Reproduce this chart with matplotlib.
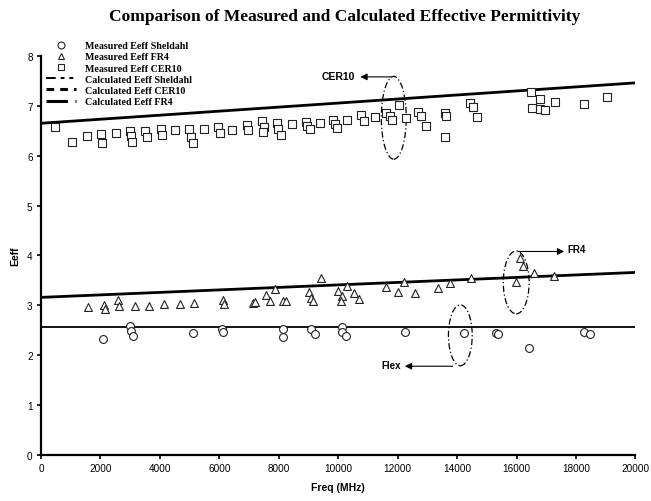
import matplotlib.pyplot as plt
from matplotlib.lines import Line2D
from matplotlib.patches import Ellipse

# measured data (freq in MHz, effective permittivity)
sheldahl_f = [2080, 3010, 3040, 3110, 5120, 6090, 6120, 8130, 8130, 9100, 9230,
              10130, 10130, 10270, 12240, 14250, 15320, 15380, 16420, 18260, 18460]
sheldahl_e = [2.32, 2.58, 2.48, 2.38, 2.44, 2.52, 2.46, 2.52, 2.36, 2.52, 2.42,
              2.56, 2.46, 2.38, 2.46, 2.44, 2.44, 2.42, 2.14, 2.46, 2.42]

fr4_f = [1580, 2110, 2140, 2580, 2610, 3150, 3650, 4150, 4680, 5150, 6120, 6150,
         7120, 7200, 7560, 7720, 7860, 8130, 8230, 9030, 9100, 9160, 9430, 10000,
         10130, 10100, 10300, 10530, 10700, 11600, 12000, 12200, 12570, 13350,
         13750, 14480, 15990, 16120, 16220, 16590, 17260]
fr4_e = [2.97, 3.00, 2.92, 3.11, 2.98, 2.98, 2.99, 3.02, 3.02, 3.04, 3.10, 3.02,
         3.05, 3.07, 3.20, 3.08, 3.32, 3.09, 3.09, 3.26, 3.14, 3.08, 3.54, 3.28,
         3.18, 3.08, 3.38, 3.24, 3.12, 3.36, 3.26, 3.46, 3.24, 3.34,
         3.44, 3.54, 3.46, 3.94, 3.78, 3.64, 3.58]

cer10_f = [470, 1040, 1540, 2010, 2040, 2540, 3010, 3040, 3070, 3510, 3550, 4050,
           4080, 4520, 4980, 5050, 5120, 5480, 5950, 6020, 6420, 6920, 6950, 7420,
           7490, 7460, 7930, 7960, 8090, 8430, 8900, 8960, 9060, 9400, 9830, 9900,
           9970, 10300, 10770, 10870, 11240, 11600, 11740, 11800, 12040, 12270,
           12680, 12780, 12940, 13610, 13640, 13610, 14450, 14520, 14680, 16490,
           16790, 16520, 16790, 16960, 17290, 18260, 19030]
cer10_e = [6.58, 6.28, 6.40, 6.44, 6.26, 6.46, 6.50, 6.40, 6.28, 6.50, 6.38, 6.54,
           6.42, 6.52, 6.54, 6.38, 6.26, 6.54, 6.58, 6.46, 6.52, 6.62, 6.52, 6.70,
           6.58, 6.48, 6.66, 6.54, 6.42, 6.64, 6.68, 6.60, 6.54, 6.66, 6.72, 6.64,
           6.56, 6.72, 6.82, 6.70, 6.78, 6.86, 6.80, 6.72, 7.02, 6.76,
           6.88, 6.80, 6.60, 6.86, 6.80, 6.38, 7.06, 6.98, 6.78, 7.28,
           7.14, 6.96, 6.94, 6.92, 7.08, 7.04, 7.18]

# calculated lines (end points)
calc_f = [0, 20000]
calc_sheldahl = [2.56, 2.56]
calc_cer10 = [6.65, 7.46]
calc_fr4 = [3.16, 3.66]

fig = plt.figure(figsize=(6.51, 5.02), dpi=100)
ax = fig.add_axes([0.063, 0.0916, 0.913, 0.795])

mk = dict(facecolor='white', edgecolor='#222222', linewidths=0.8, s=32, zorder=3)
ax.scatter(sheldahl_f, sheldahl_e, marker='o', **mk)
ax.scatter(fr4_f, fr4_e, marker='^', **mk)
ax.scatter(cer10_f, cer10_e, marker='s', **mk)

ax.plot(calc_f, calc_sheldahl, color='black', lw=1.3, zorder=2)
ax.plot(calc_f, calc_cer10, color='black', lw=2.0, zorder=2)
ax.plot(calc_f, calc_fr4, color='black', lw=2.0, zorder=2)

# annotations
ell_kw = dict(fill=False, edgecolor='black', lw=0.9, linestyle=(0, (5, 2, 1, 2)))
ax.add_patch(Ellipse((11870, 6.76), 840, 1.66, **ell_kw))
ax.add_patch(Ellipse((15990, 3.46), 870, 1.26, **ell_kw))
ax.add_patch(Ellipse((14110, 2.40), 800, 1.22, **ell_kw))

arr = dict(arrowstyle='-|>', color='black', lw=0.8, mutation_scale=10)
ax.annotate('', xy=(10650, 7.58), xytext=(11870, 7.58), arrowprops=arr)
ax.text(10550, 7.60, 'CER10', ha='right', va='center', fontsize=7.5,
        fontweight='bold', family='Liberation Sans')
ax.annotate('', xy=(17700, 4.08), xytext=(15950, 4.08), arrowprops=arr)
ax.text(17720, 4.12, 'FR4', ha='left', va='center', fontsize=7,
        fontweight='bold', family='Liberation Sans')
ax.annotate('', xy=(12150, 1.78), xytext=(13950, 1.78), arrowprops=arr)
ax.text(12100, 1.80, 'Flex', ha='right', va='center', fontsize=7,
        fontweight='bold', family='Liberation Sans')

ax.set_xlim(0, 20000)
ax.set_ylim(0, 8)
ax.set_xticks(range(0, 20001, 2000))
ax.set_yticks(range(0, 9))
for s in ['top', 'right']:
    ax.spines[s].set_visible(False)
for s in ['left', 'bottom']:
    ax.spines[s].set_linewidth(1.6)
ax.tick_params(direction='out', length=3, width=1.2, labelsize=7.2, pad=3)
for lab in ax.get_xticklabels() + ax.get_yticklabels():
    lab.set_family('Liberation Sans')

ax.set_xlabel('Freq (MHz)', fontsize=7.5, fontweight='bold', family='Liberation Sans', labelpad=6)
ax.set_ylabel('Eeff', fontsize=7.5, fontweight='bold', family='Liberation Sans', labelpad=5)

fig.text(0.53, 0.966, 'Comparison of Measured and Calculated Effective Permittivity',
         ha='center', va='center', fontsize=12.5, fontweight='bold', family='Liberation Serif')

handles = [
    Line2D([], [], marker='o', ls='none', mfc='white', mec='#222222', ms=5, mew=0.8),
    Line2D([], [], marker='^', ls='none', mfc='white', mec='#222222', ms=5, mew=0.8),
    Line2D([], [], marker='s', ls='none', mfc='white', mec='#222222', ms=5, mew=0.8),
    Line2D([], [], color='black', lw=1.4, ls=(0, (5, 2.5, 2, 2.5, 2, 2.5))),
    Line2D([], [], color='black', lw=2.2, ls=(0, (2.5, 2))),
    Line2D([], [], color='black', lw=2.2, ls=(0, (7, 2.5, 2, 2.5))),
]
labels = ['Measured Eeff Sheldahl', 'Measured Eeff FR4', 'Measured Eeff CER10',
          'Calculated Eeff Sheldahl', 'Calculated Eeff CER10', 'Calculated Eeff FR4']
fig.legend(handles, labels, loc='upper left', bbox_to_anchor=(0.06, 0.93), frameon=False,
           prop={'family': 'Liberation Serif', 'weight': 'bold', 'size': 7.2},
           labelspacing=0.22, handlelength=3.0, handletextpad=0.9, borderpad=0.2)

fig.savefig('out.png', dpi=100)
